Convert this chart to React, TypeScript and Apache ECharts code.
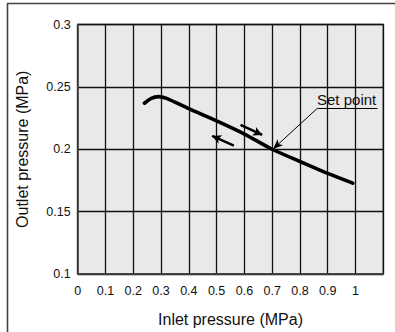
import React, { useEffect, useRef } from 'react';
import * as echarts from 'echarts';

const inletPressure = [0.24, 0.265, 0.29, 0.32, 0.4, 0.5, 0.6, 0.7, 0.8, 0.9, 0.99];
const outletPressure = [0.2369, 0.2408, 0.2422, 0.2408, 0.2325, 0.2227, 0.2122, 0.2, 0.1902, 0.1806, 0.1728];

const xAxisMin = 0;
const xAxisMax = 1.1;
const xAxisStep = 0.1;
const yAxisMin = 0.1;
const yAxisMax = 0.3;
const yAxisStep = 0.05;

const xTitle = 'Inlet pressure (MPa)';
const yTitle = 'Outlet pressure (MPa)';
const setPointLabel = 'Set point';

// annotation anchors in data units
const setPoint = [0.703, 0.2002];
const labelElbow = [0.863, 0.2329];
const labelEnd = [1.079, 0.2329];
const labelCenter = [0.968, 0.2397];
const arrowRise = [[0.586, 0.2195], [0.664, 0.2115]];
const arrowFall = [[0.562, 0.2029], [0.484, 0.2107]];

export default function App() {
  const ref = useRef<HTMLDivElement>(null);
  useEffect(() => {
    if (!ref.current) return;
    const chart = echarts.init(ref.current, null, { renderer: 'svg' });
    const font = 'Liberation Sans, Arial, Helvetica, sans-serif';
    const curve = inletPressure.map((x, i) => [x, outletPressure[i]]);
    chart.setOption({
      animation: false,
      backgroundColor: '#ffffff',
      textStyle: { fontFamily: font },
      grid: {
        left: 77.7,
        top: 24.5,
        right: 11.7,
        bottom: 58,
        containLabel: false,
        outerBoundsMode: 'none',
        show: true,
        backgroundColor: '#e8e9e8',
        borderColor: '#444',
        borderWidth: 1.5,
      },
      xAxis: {
        type: 'value',
        min: xAxisMin,
        max: xAxisMax,
        interval: xAxisStep,
        name: xTitle,
        nameLocation: 'middle',
        nameGap: 37,
        nameTextStyle: { fontSize: 16, color: '#111', fontFamily: font },
        axisLine: { show: true, lineStyle: { color: '#444', width: 1.5 } },
        axisTick: { show: false },
        splitLine: { show: true, lineStyle: { color: '#111', width: 1.3 } },
        axisLabel: {
          fontSize: 12.5,
          color: '#111',
          margin: 10,
          formatter: (v: number) => (v > 1.05 ? '' : String(parseFloat(v.toFixed(1)))),
        },
      },
      yAxis: {
        type: 'value',
        min: yAxisMin,
        max: yAxisMax,
        interval: yAxisStep,
        name: yTitle,
        nameLocation: 'middle',
        nameGap: 47,
        nameTextStyle: { fontSize: 16, color: '#111', fontFamily: font },
        axisLine: { show: true, lineStyle: { color: '#444', width: 1.5 } },
        axisTick: { show: false },
        splitLine: { show: true, lineStyle: { color: '#111', width: 1.3 } },
        axisLabel: {
          fontSize: 12.5,
          color: '#111',
          margin: 7,
          formatter: (v: number) => String(parseFloat(v.toFixed(2))),
        },
      },
      series: [
        {
          type: 'line',
          data: curve,
          smooth: 0.25,
          showSymbol: false,
          silent: true,
          lineStyle: { color: '#000', width: 3.6, cap: 'round' },
          markLine: {
            silent: true,
            animation: false,
            label: { show: false },
            symbol: ['none', 'arrow'],
            data: [
              [
                { coord: arrowRise[0], lineStyle: { color: '#000', width: 2.5, type: 'solid' }, symbol: 'none' },
                { coord: arrowRise[1], symbol: 'arrow', symbolSize: [7, 9] },
              ],
              [
                { coord: arrowFall[0], lineStyle: { color: '#000', width: 2.5, type: 'solid' }, symbol: 'none' },
                { coord: arrowFall[1], symbol: 'arrow', symbolSize: [7, 9] },
              ],
              [
                { coord: labelElbow, lineStyle: { color: '#000', width: 1, type: 'solid' }, symbol: 'none' },
                { coord: setPoint, symbol: 'arrow', symbolSize: [6, 10] },
              ],
              [
                { coord: labelElbow, lineStyle: { color: '#000', width: 1, type: 'solid' }, symbol: 'none' },
                { coord: labelEnd, symbol: 'none' },
              ],
            ],
          },
          markPoint: {
            silent: true,
            animation: false,
            data: [
              {
                coord: labelCenter,
                symbol: 'circle',
                symbolSize: 0,
                itemStyle: { color: 'transparent' },
                label: {
                  show: true,
                  position: 'inside',
                  formatter: setPointLabel,
                  color: '#111',
                  fontSize: 15,
                  fontFamily: font,
                },
              },
            ],
          },
        },
      ],
      graphic: [
        { type: 'line', shape: { x1: 7, y1: 3.5, x2: 395, y2: 3.5 }, style: { stroke: '#444', lineWidth: 1.6 }, silent: true },
        { type: 'line', shape: { x1: 7.5, y1: 3, x2: 7.5, y2: 332 }, style: { stroke: '#444', lineWidth: 1.6 }, silent: true },
      ],
    });
    return () => chart.dispose();
  }, []);
  return <div ref={ref} style={{ position: 'fixed', left: 0, top: 0, width: 395, height: 332 }} />;
}
